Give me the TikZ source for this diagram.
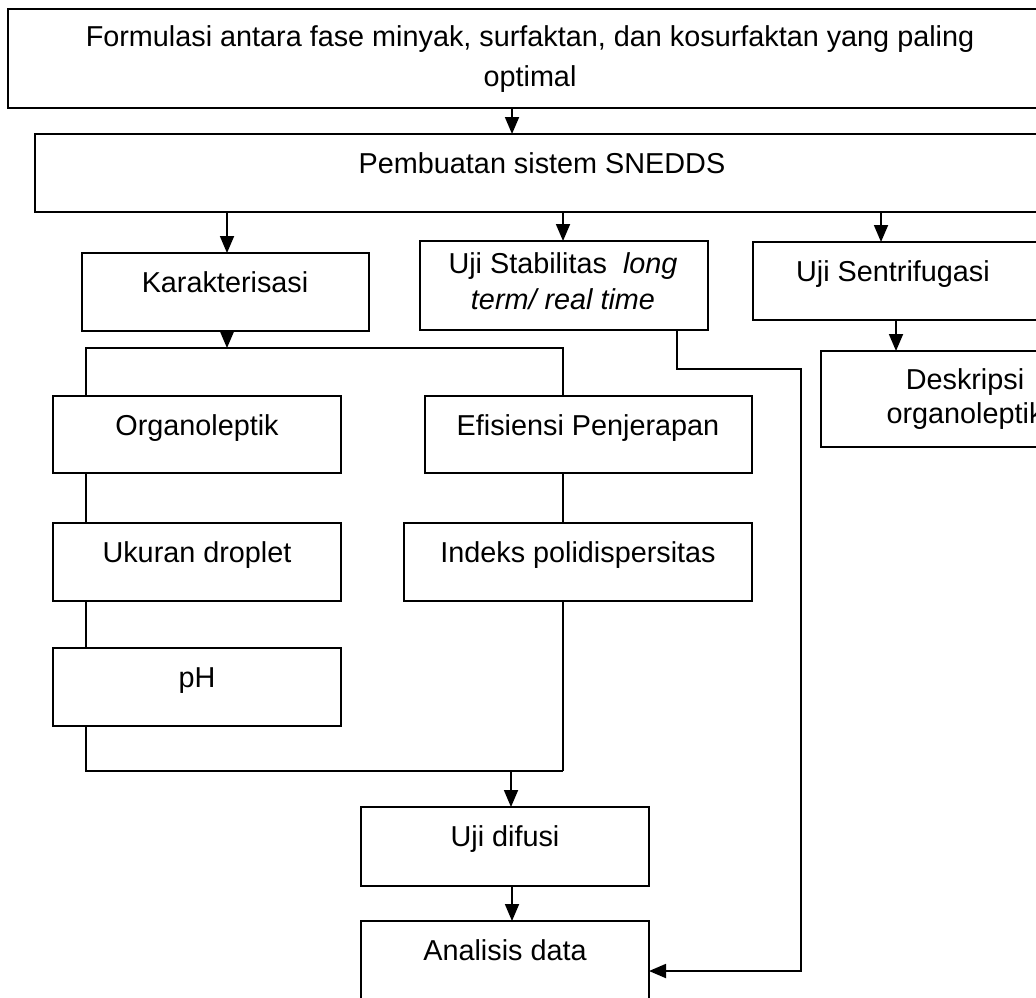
\documentclass[tikz,border=0pt]{standalone}
\usepackage{fontspec}
\setmainfont{Liberation Sans}
\usetikzlibrary{arrows.meta}
\begin{document}
\begin{tikzpicture}[x=1pt,y=-1pt,
  box/.style={draw, line width=1.8pt, fill=white, inner sep=0pt, outer sep=0pt, anchor=north west},
  txt/.style={inner sep=0pt, anchor=base, align=center, font=\fontsize{28.8pt}{36pt}\selectfont},
  conn/.style={line width=1.8pt},
  arr/.style={conn, -{Triangle[length=17pt,width=14pt]}}]
\useasboundingbox (0,0) rectangle (1036,997);
\fill[white] (0,0) rectangle (1036,997);
\clip (0,0) rectangle (1036,997);
% boxes
\node[box, minimum width=1052pt, minimum height=99pt] (form) at (8,9) {};
\node[box, minimum width=1025pt, minimum height=78pt] (sned) at (35,134) {};
\node[box, minimum width=287pt, minimum height=78pt] (kar) at (82,253) {};
\node[box, minimum width=288pt, minimum height=89pt] (stab) at (420,241) {};
\node[box, minimum width=307pt, minimum height=78pt] (sent) at (753,242) {};
\node[box, minimum width=290pt, minimum height=96pt] (desk) at (821,351) {};
\node[box, minimum width=288pt, minimum height=77pt] (org) at (53,396) {};
\node[box, minimum width=327pt, minimum height=77pt] (efi) at (425,396) {};
\node[box, minimum width=288pt, minimum height=78pt] (ukr) at (53,523) {};
\node[box, minimum width=348pt, minimum height=78pt] (ind) at (404,523) {};
\node[box, minimum width=288pt, minimum height=78pt] (ph) at (53,648) {};
\node[box, minimum width=288pt, minimum height=79pt] (dif) at (361,807) {};
\node[box, minimum width=288pt, minimum height=99pt] (ana) at (361,921) {};
% texts (multi-line nodes are placed by the baseline of their last line)
\node[txt, font=\fontsize{28.8pt}{40pt}\selectfont] (formT) at (530,86) {Formulasi antara fase minyak, surfaktan, dan kosurfaktan yang paling\\optimal};
\node[txt] (snedT) at (542,173) {Pembuatan sistem SNEDDS};
\node[txt] (karT) at (225,292) {Karakterisasi};
\node[txt] (stabT) at (563,309) {Uji Stabilitas\ \ \textit{long}\\\textit{term/ real time}};
\node[txt] (sentT) at (893,281) {Uji Sentrifugasi};
\node[txt, font=\fontsize{28.8pt}{34pt}\selectfont] (deskT) at (965,423) {Deskripsi\\organoleptik};
\node[txt] (orgT) at (197,435) {Organoleptik};
\node[txt] (efiT) at (588,435) {Efisiensi Penjerapan};
\node[txt] (ukrT) at (197,562) {Ukuran droplet};
\node[txt] (indT) at (578,562) {Indeks polidispersitas};
\node[txt] (phT) at (197,687) {pH};
\node[txt] (difT) at (505,846) {Uji difusi};
\node[txt] (anaT) at (505,960) {Analisis data};
% junctions
\coordinate (jk) at (227,348);
\coordinate (jl) at (86,348);
\coordinate (jr) at (563,348);
\coordinate (jb) at (563,771);
\coordinate (jd) at (511,771);
\coordinate (js) at (801,369);
% connectors
\draw[arr] (form.south -| 512,0) -- (sned.north -| 512,0);
\draw[arr] (sned.south -| 227,0) -- (kar.north -| 227,0);
\draw[arr] (sned.south -| 563,0) -- (stab.north -| 563,0);
\draw[arr] (sned.south -| 881,0) -- (sent.north -| 881,0);
\draw[arr] (sent.south -| 896,0) -- (desk.north -| 896,0);
\draw[arr] (kar.south -| jk) -- (jk);
\draw[conn] (org.north -| jl) |- (jr) -- (efi.north -| jr);
\draw[conn] (org.south -| jl) -- (ukr.north -| jl);
\draw[conn] (ukr.south -| jl) -- (ph.north -| jl);
\draw[conn] (ph.south -| jl) |- (jb);
\draw[conn] (efi.south -| jr) -- (ind.north -| jr);
\draw[conn] (ind.south -| jr) -- (jb);
\draw[arr] (jd) -- (dif.north -| jd);
\draw[arr] (dif.south -| 512,0) -- (ana.north -| 512,0);
\draw[arr] (stab.south -| 677,0) |- (js) |- (ana.east |- 0,971);
\end{tikzpicture}
\end{document}
